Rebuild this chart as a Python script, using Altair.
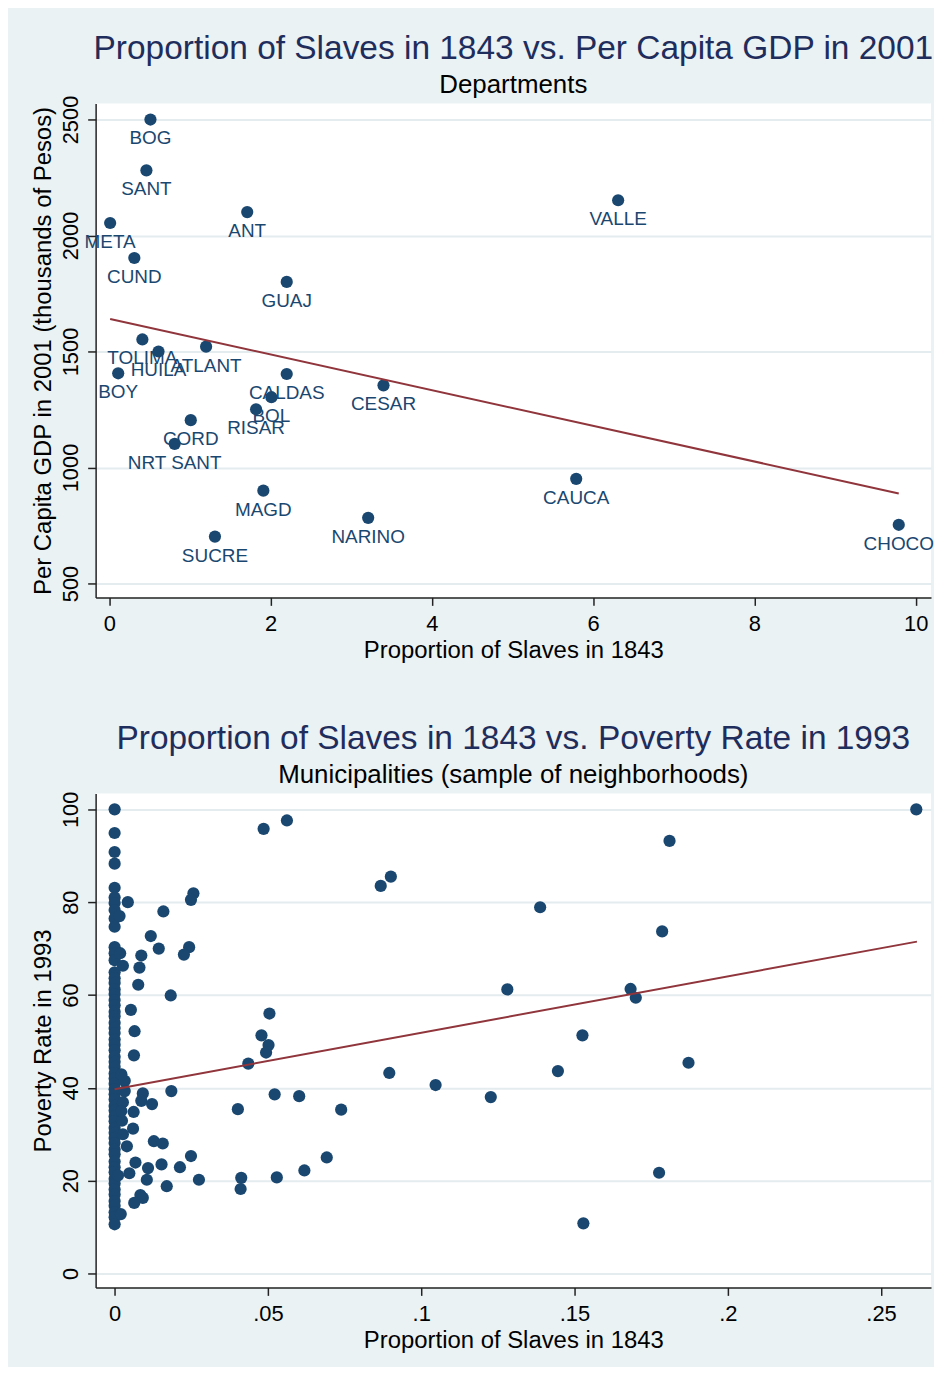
import altair as alt
import pandas as pd

# ---------------- Panel 1: Departments ----------------
dept = ["BOG", "SANT", "META", "ANT", "VALLE", "CUND", "GUAJ", "TOLIMA", "HUILA",
        "ATLANT", "BOY", "CALDAS", "CESAR", "BOL", "RISAR", "CORD", "NRT SANT",
        "MAGD", "NARINO", "SUCRE", "CAUCA", "CHOCO"]
dept_slaves = [0.51, 0.46, 0.01, 1.71, 6.31, 0.31, 2.20, 0.41, 0.61,
               1.20, 0.11, 2.20, 3.40, 2.01, 1.82, 1.01, 0.81,
               1.91, 3.21, 1.31, 5.79, 9.79]
dept_gdp = [2500, 2281, 2054, 2101, 2152, 1903, 1800, 1552, 1500,
            1521, 1406, 1403, 1354, 1303, 1251, 1204, 1102,
            900, 783, 702, 951, 753]

# ---------------- Panel 2: Municipalities ----------------
# points stacked at zero slaves
col_y = [100.0, 94.9, 90.8, 88.3, 83.1, 81.0, 79.8, 78.3, 76.5, 74.7,
         70.3, 69.0, 67.5, 64.9, 63.6, 62.6, 61.2, 60.2, 58.9, 57.8,
         56.4, 55.4, 54.0, 52.9, 51.8, 50.4, 49.3, 48.1, 46.7, 45.6,
         44.5, 43.1, 42.0, 40.9, 39.7, 38.6, 37.5, 36.1, 35.1, 33.8,
         32.8, 31.4, 30.3, 29.2, 28.1, 26.7, 25.7, 24.1, 22.9, 21.8,
         20.4, 19.4, 18.1, 17.0, 15.6, 14.6, 13.2, 12.1, 10.6]
mun_x_other = [0.2615, 0.181, 0.1388, 0.1786, 0.1281, 0.1683, 0.170, 0.1526,
               0.1446, 0.1872, 0.1227, 0.1776, 0.1529, 0.0896, 0.1047,
               0.0486, 0.0562, 0.0868, 0.0901, 0.0505, 0.0479, 0.0502, 0.0494,
               0.0436, 0.0522, 0.0602, 0.0402, 0.0739, 0.0692, 0.0619, 0.0413,
               0.0411, 0.0529,
               0.0275, 0.0043, 0.0159, 0.0257, 0.0249, 0.0118, 0.0144, 0.0243,
               0.0226, 0.0087, 0.0081, 0.0077, 0.0183, 0.0053, 0.0065, 0.0016,
               0.0063, 0.0092, 0.0185, 0.0087, 0.0122, 0.0062, 0.0060, 0.0024,
               0.0027, 0.0128, 0.0157, 0.0040, 0.0249, 0.0068, 0.0153, 0.0213,
               0.0109, 0.0048, 0.0105, 0.0170, 0.0092, 0.0084, 0.0064, 0.0011,
               0.0020, 0.0027, 0.0018, 0.0033, 0.0033, 0.0022, 0.0027, 0.0022]
mun_y_other = [100.0, 93.2, 78.9, 73.7, 61.2, 61.3, 59.4, 51.3,
               43.6, 45.4, 38.0, 21.7, 10.8, 43.2, 40.6,
               95.8, 97.6, 83.5, 85.5, 56.0, 51.3, 49.2, 47.6,
               45.2, 38.6, 38.2, 35.4, 35.3, 25.0, 22.2, 20.6,
               18.2, 20.7,
               20.2, 80.0, 78.0, 81.9, 80.5, 72.7, 70.0, 70.3,
               68.7, 68.5, 65.9, 62.2, 59.9, 56.8, 52.2, 77.0,
               47.0, 38.8, 39.3, 37.2, 36.5, 34.8, 31.2, 32.9,
               30.0, 28.5, 28.0, 27.4, 25.3, 23.9, 23.5, 22.9,
               22.7, 21.6, 20.2, 18.8, 16.3, 16.9, 15.2, 21.1,
               12.8, 66.3, 69.0, 41.5, 39.3, 42.9, 36.9, 35.0]
fit2_x = [0.0, 0.2617]
fit2_y = [39.7, 71.5]

NAVY = "#1A476F"
MAROON = "#90353B"
BG = "#EAF2F3"
GRID = "#E4ECEF"
TITLE_C = "#1F2D5C"
FONT = "Liberation Sans"

df1 = pd.DataFrame({"dept": dept, "slaves": dept_slaves, "gdp": dept_gdp})
df2 = pd.DataFrame({
    "slaves": [0.0] * len(col_y) + mun_x_other,
    "poverty": col_y + mun_y_other,
})
df2_fit = pd.DataFrame({"slaves": fit2_x, "poverty": fit2_y})

yaxis_common = dict(labelAngle=270, labelAlign="center", labelBaseline="bottom",
                    grid=True, format="d")

x1 = alt.X("slaves:Q", scale=alt.Scale(domain=[-0.17, 10.19], nice=False, zero=False),
           axis=alt.Axis(values=[0, 2, 4, 6, 8, 10], title="Proportion of Slaves in 1843",
                         grid=False, labelPadding=8))
y1 = alt.Y("gdp:Q", scale=alt.Scale(domain=[440, 2569], nice=False, zero=False),
           axis=alt.Axis(values=[500, 1000, 1500, 2000, 2500],
                         title="Per Capita GDP in 2001 (thousands of Pesos)", **yaxis_common))

base1 = alt.Chart(df1)
pts1 = base1.mark_circle(size=150, color=NAVY, opacity=1).encode(x=x1, y=y1)
lab1 = base1.mark_text(dy=19, baseline="middle", align="center", fontSize=19,
                       color=NAVY, font=FONT).encode(x=x1, y=y1, text="dept:N")
fit1 = base1.transform_regression("slaves", "gdp").mark_line(
    color=MAROON, strokeWidth=2).encode(x=x1, y=y1)

p1 = alt.layer(pts1, lab1, fit1).properties(
    width=839, height=496,
    title=alt.TitleParams(text="Proportion of Slaves in 1843 vs. Per Capita GDP in 2001",
                          subtitle="Departments", fontSize=33.6, subtitleFontSize=26,
                          color=TITLE_C, subtitleColor="black", anchor="middle",
                          frame="group", fontWeight="normal", font=FONT,
                          subtitleFont=FONT, offset=-3, subtitlePadding=7))

x2 = alt.X("slaves:Q", scale=alt.Scale(domain=[-0.0062, 0.2663], nice=False, zero=False),
           axis=alt.Axis(values=[0, 0.05, 0.1, 0.15, 0.2, 0.25],
                         labelExpr="datum.value == 0 ? '0' : '.' + split(format(datum.value, '.2~f'), '.')[1]",
                         title="Proportion of Slaves in 1843", grid=False, labelPadding=8))
y2 = alt.Y("poverty:Q", scale=alt.Scale(domain=[-3.0, 103.4], nice=False, zero=False),
           axis=alt.Axis(values=[0, 20, 40, 60, 80, 100], title="Poverty Rate in 1993",
                         **yaxis_common))

pts2 = alt.Chart(df2).mark_circle(size=150, color=NAVY, opacity=1).encode(x=x2, y=y2)
fit2 = alt.Chart(df2_fit).mark_line(color=MAROON, strokeWidth=2).encode(x=x2, y=y2)

p2 = alt.layer(pts2, fit2).properties(
    width=839, height=496,
    title=alt.TitleParams(text="Proportion of Slaves in 1843 vs. Poverty Rate in 1993",
                          subtitle="Municipalities (sample of neighborhoods)",
                          fontSize=33.6, subtitleFontSize=26,
                          color=TITLE_C, subtitleColor="black", anchor="middle",
                          frame="group", fontWeight="normal", font=FONT,
                          subtitleFont=FONT, offset=3, subtitlePadding=7))

chart = alt.vconcat(p1, p2, spacing=59).configure(
    background=BG,
    padding={"left": 23, "top": 21, "right": 0, "bottom": 12},
    font=FONT,
).configure_view(fill="white", strokeWidth=0).configure_axis(
    domainColor="#222222", domainWidth=1.5, tickColor="#222222", tickWidth=1.5,
    tickSize=8, labelFontSize=22, titleFontSize=24, labelColor="black",
    titleColor="black", titleFontWeight="normal", labelFont=FONT, titleFont=FONT,
    gridColor=GRID, gridWidth=2, labelPadding=5, titlePadding=4,
)

chart.save("out.html", embed_options={"renderer": "svg", "actions": False})
